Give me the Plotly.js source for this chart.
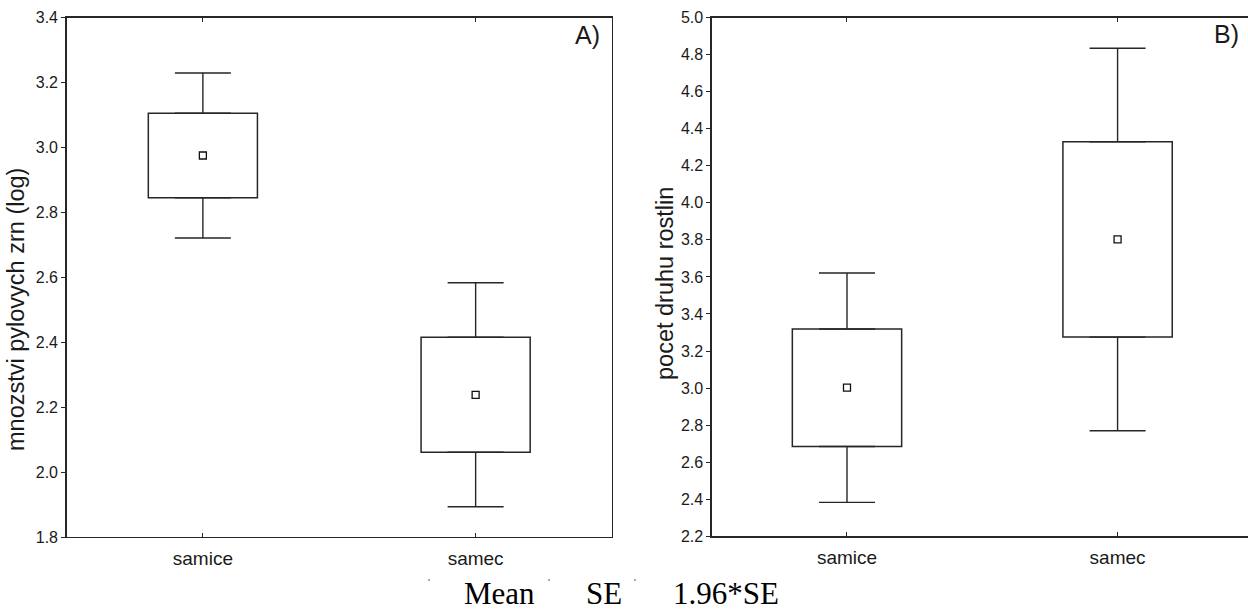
<!DOCTYPE html>
<html>
<head>
<meta charset="utf-8">
<script src="https://cdn.plot.ly/plotly-3.0.1.min.js"></script>
<style>
html,body{margin:0;padding:0;background:#fff;}
#chart{width:1248px;height:612px;}
</style>
</head>
<body>
<div id="chart"></div>
<script>
// Categories
const categories = ['samice', 'samec'];

// Panel A: mnozstvi pylovych zrn (log)
const meanA = [2.975, 2.238];
const seA = [0.130, 0.177];
const ciA = [0.254, 0.345];   // 1.96*SE

// Panel B: pocet druhu rostlin
const meanB = [3.002, 3.802];
const seB = [0.317, 0.527];
const ciB = [0.619, 1.032];   // 1.96*SE

const yTicksA = [1.8, 2.0, 2.2, 2.4, 2.6, 2.8, 3.0, 3.2, 3.4];
const yTicksB = [2.2, 2.4, 2.6, 2.8, 3.0, 3.2, 3.4, 3.6, 3.8, 4.0, 4.2, 4.4, 4.6, 4.8, 5.0];

const titleA = 'mnozstvi pylovych zrn (log)';
const titleB = 'pocet druhu rostlin';
const legendTexts = ['Mean', 'SE', '1.96*SE'];

const lineCol = '#262626';
const txtCol = '#1a1a1a';
const font = 'Liberation Sans, Arial, sans-serif';
const serif = 'Liberation Serif, Times New Roman, serif';

function panel(mean, se, ci, xa, ya, boxW) {
  const lo = mean.map((m, i) => m - se[i]);
  const hi = mean.map((m, i) => m + se[i]);
  const twoSe = se.map(s => 2 * s);
  const upExt = ci.map((c, i) => c - se[i]);
  const zeros = ci.map(() => 0);
  return [
    { type: 'bar', x: categories, y: twoSe, base: lo, width: boxW,
      xaxis: xa, yaxis: ya, marker: { color: '#ffffff', line: { color: lineCol, width: 1.5 } },
      hoverinfo: 'skip', showlegend: false },
    { type: 'scatter', mode: 'markers', x: categories, y: hi, xaxis: xa, yaxis: ya,
      marker: { size: 1, color: 'rgba(0,0,0,0)' },
      error_y: { type: 'data', symmetric: false, array: upExt, arrayminus: zeros,
        color: lineCol, thickness: 1.4, width: 28 },
      hoverinfo: 'skip', showlegend: false },
    { type: 'scatter', mode: 'markers', x: categories, y: lo, xaxis: xa, yaxis: ya,
      marker: { size: 1, color: 'rgba(0,0,0,0)' },
      error_y: { type: 'data', symmetric: false, array: zeros, arrayminus: upExt,
        color: lineCol, thickness: 1.4, width: 28 },
      hoverinfo: 'skip', showlegend: false },
    { type: 'scatter', mode: 'markers', x: categories, y: mean, xaxis: xa, yaxis: ya,
      marker: { symbol: 'square-open', size: 7, color: '#111', line: { width: 1.3, color: '#111' } },
      showlegend: false }
  ];
}

const data = [].concat(
  panel(meanA, seA, ciA, 'x', 'y', 0.4),
  panel(meanB, seB, ciB, 'x2', 'y2', 0.404)
);

const W = 1248, H = 612;
const axCommon = {
  showline: true, linecolor: lineCol, linewidth: 1.3, showgrid: false, zeroline: false,
  tickcolor: lineCol, tickfont: { family: font, size: 16, color: txtCol }
};

const legX = [463, 585, 672];
const annotations = [
  { text: 'A)', xref: 'paper', yref: 'paper', x: 602 / W, y: 1 - 35 / H, xanchor: 'right', yanchor: 'middle',
    showarrow: false, font: { family: font, size: 25, color: txtCol } },
  { text: 'B)', xref: 'paper', yref: 'paper', x: 1241 / W, y: 1 - 34 / H, xanchor: 'right', yanchor: 'middle',
    showarrow: false, font: { family: font, size: 25, color: txtCol } },
  { text: titleA, xref: 'paper', yref: 'paper', x: 16 / W, y: 1 - 310 / H, xanchor: 'center', yanchor: 'middle',
    textangle: -90, showarrow: false, font: { family: font, size: 23.5, color: txtCol } },
  { text: titleB, xref: 'paper', yref: 'paper', x: 665 / W, y: 1 - 284 / H, xanchor: 'center', yanchor: 'middle',
    textangle: -90, showarrow: false, font: { family: font, size: 23.5, color: txtCol } }
].concat(legendTexts.map((t, i) => ({
  text: t, xref: 'paper', yref: 'paper', x: legX[i] / W, y: 0, xanchor: 'left', yanchor: 'bottom',
  borderpad: 0, showarrow: false, font: { family: serif, size: 31, color: '#000' }
})));

const layout = {
  width: W, height: H,
  margin: { l: 0, r: 0, t: 0, b: 0 },
  paper_bgcolor: '#fff', plot_bgcolor: '#fff',
  bargap: 0, showlegend: false,
  xaxis: Object.assign({}, axCommon, {
    domain: [66.5 / W, 612 / W], range: [-0.5, 1.5], type: 'category',
    ticks: 'inside', ticklen: 4, mirror: 'ticks', ticklabelstandoff: 4,
    tickfont: { family: font, size: 19, color: txtCol }
  }),
  yaxis: Object.assign({}, axCommon, {
    domain: [1 - 537 / H, 1 - 17.5 / H], range: [1.8, 3.4],
    tickvals: yTicksA, ticktext: yTicksA.map(v => v.toFixed(1)),
    ticks: 'outside', ticklen: 4, mirror: true
  }),
  xaxis2: Object.assign({}, axCommon, {
    domain: [711.7 / W, 1], range: [-0.5, 1.482], type: 'category', anchor: 'y2',
    ticks: 'inside', ticklen: 4, mirror: 'ticks', ticklabelstandoff: 4,
    tickfont: { family: font, size: 19, color: txtCol }
  }),
  yaxis2: Object.assign({}, axCommon, {
    domain: [1 - 536.3 / H, 1 - 17.5 / H], range: [2.2, 5.0], anchor: 'x2',
    tickvals: yTicksB, ticktext: yTicksB.map(v => v.toFixed(1)),
    ticks: 'outside', ticklen: 4, mirror: false
  }),
  shapes: [429, 549, 635].map(x => ({
    type: 'line', xref: 'paper', yref: 'paper', x0: (x - 1) / W, x1: (x + 1) / W,
    y0: 1 - 580 / H, y1: 1 - 580 / H, line: { color: '#555', width: 1 }
  })),
  annotations: annotations
};

Plotly.newPlot('chart', data, layout, { displayModeBar: false, staticPlot: true });
</script>
</body>
</html>
